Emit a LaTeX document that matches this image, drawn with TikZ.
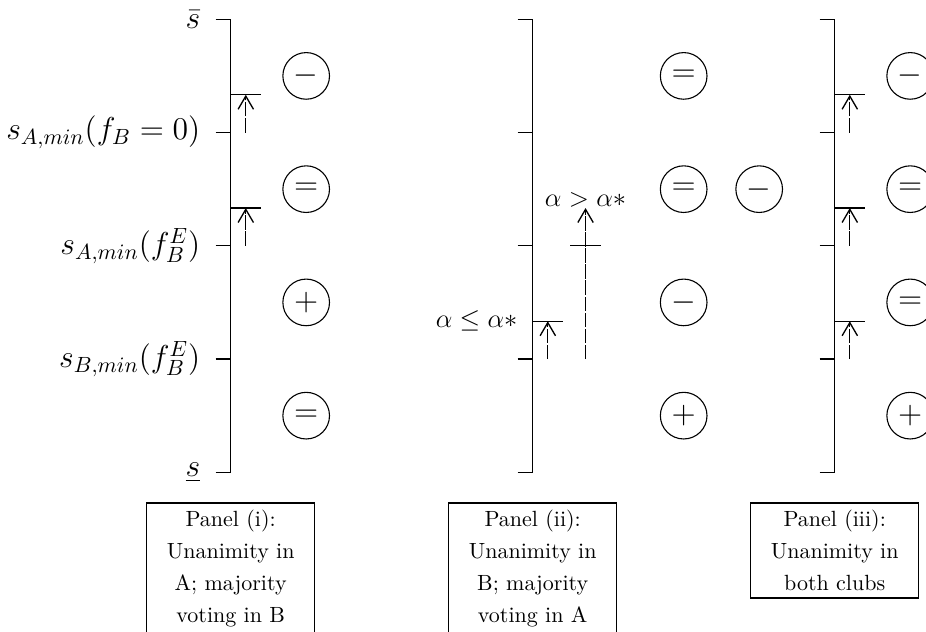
\documentclass[tikz,border=0pt]{standalone}
\usetikzlibrary{arrows.meta}

\tikzset{
  axisline/.style={line width=0.6pt},
  rise/.style={line width=0.6pt,dash pattern=on 6.5pt off 0.8pt,-{Straight Barb[length=6pt,width=7pt]}},
  sign/.style={circle,draw,line width=0.5pt,minimum size=21.2pt,inner sep=0pt,font=\Large},
  panelbox/.style={draw,line width=0.6pt,anchor=north,align=center,text width=69.7pt,
    font=\fontsize{10}{14.4}\selectfont}
}

\begin{document}
\begin{tikzpicture}[x=17.16pt,y=17.16pt,line cap=butt]
  \useasboundingbox (-6.111,-4.230) rectangle (18.419,12.511);

  % the three scales
  \foreach \p in {0,8,16} {
    \draw[axisline] (\p,0) -- (\p,12);
    \foreach \y in {0,3,...,12}
      \draw[axisline] (\p-0.4,\y) -- (\p,\y);
  }

  % labels of panel (i)
  \node[anchor=east,font=\Large] (sTop) at (-0.6,12) {$\bar{s}$};
  \node[anchor=east,font=\Large] (sAzero) at (-0.6,9) {$s_{A,min}(f_B=0)$};
  \node[anchor=east,font=\Large] (sAeq) at (-0.6,6) {$s_{A,min}(f_B^E)$};
  \node[anchor=east,font=\Large] (sBeq) at (-0.6,3) {$s_{B,min}(f_B^E)$};
  \node[anchor=east,font=\Large] (sBot) at (-0.6,0) {$\underline{s}$};

  % panel (i)
  \foreach \y in {9,6} {
    \coordinate (a\y) at (0.4,\y);
    \coordinate (b\y) at (0.4,\y+1);
    \draw[axisline] (0,\y+1) -- (0.8,\y+1);
    \draw[rise] (a\y) -- (b\y);
  }
  \node[sign] (iA) at (2,10.5) {$-$};
  \node[sign] (iB) at (2,7.5) {$=$};
  \node[sign] (iC) at (2,4.5) {$+$};
  \node[sign] (iD) at (2,1.5) {$=$};

  % panel (ii)
  \coordinate (lowA) at (8.4,3);
  \coordinate (lowB) at (8.4,4);
  \coordinate (highA) at (9.4,3);
  \coordinate (highB) at (9.4,7);
  \draw[axisline] (8,4) -- (8.8,4);
  \draw[axisline] (9,6) -- (9.8,6);
  \draw[rise] (lowA) -- (lowB);
  \draw[rise] (highA) -- (highB);
  \node[anchor=east,font=\large] (alphaLow) at (7.8,4) {$\alpha \leq \alpha*$};
  \node[anchor=base,font=\large,inner sep=0pt] (alphaHigh) at (9.4,7.05) {$\alpha > \alpha*$};
  \node[sign] (iiA) at (12,10.5) {$=$};
  \node[sign] (iiB) at (12,7.5) {$=$};
  \node[sign] (iiC) at (12,4.5) {$-$};
  \node[sign] (iiD) at (12,1.5) {$+$};
  \node[sign] (iiE) at (14,7.5) {$-$};

  % panel (iii)
  \foreach \y in {9,6,3} {
    \coordinate (c\y) at (16.4,\y);
    \coordinate (d\y) at (16.4,\y+1);
    \draw[axisline] (16,\y+1) -- (16.8,\y+1);
    \draw[rise] (c\y) -- (d\y);
  }
  \node[sign] (iiiA) at (18,10.5) {$-$};
  \node[sign] (iiiB) at (18,7.5) {$=$};
  \node[sign] (iiiC) at (18,4.5) {$=$};
  \node[sign] (iiiD) at (18,1.5) {$+$};

  % captions
  \node[panelbox] (capI) at (0,-0.8) {Panel (i):\\Unanimity in\\A; majority\\voting in B};
  \node[panelbox] (capII) at (8,-0.8) {Panel (ii):\\Unanimity in\\B; majority\\voting in A};
  \node[panelbox] (capIII) at (16,-0.8) {Panel (iii):\\Unanimity in\\both clubs};
\end{tikzpicture}
\end{document}
